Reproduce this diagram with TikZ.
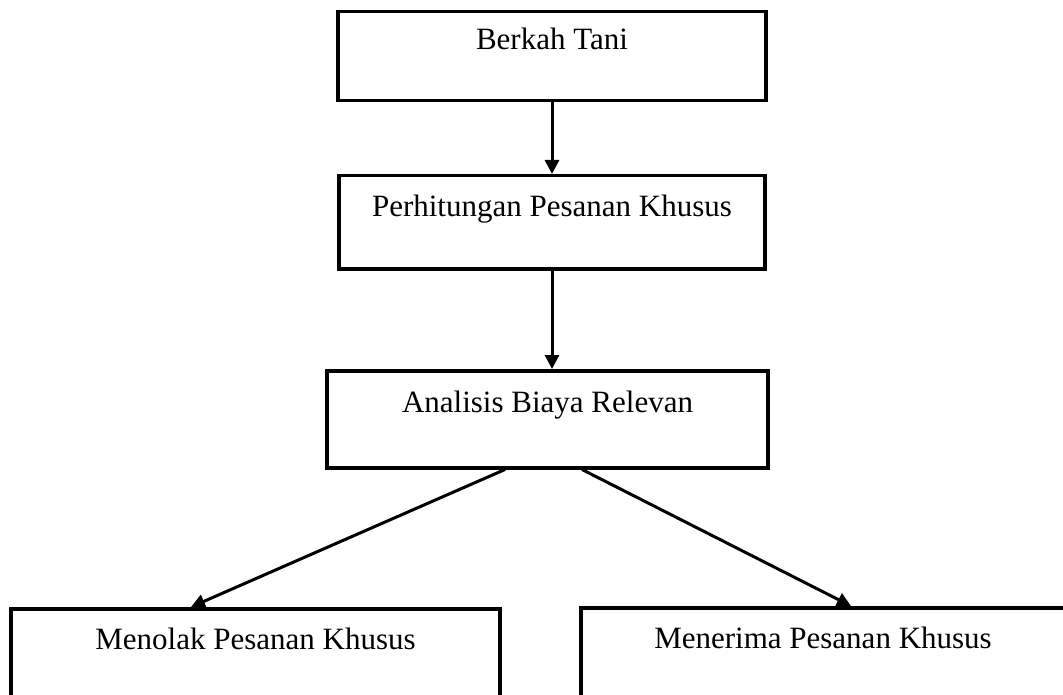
\documentclass[tikz,border=0pt]{standalone}
\usepackage{fontspec}
\setmainfont{Liberation Serif}
\usetikzlibrary{arrows.meta}
\begin{document}
\begin{tikzpicture}[x=1pt,y=1pt,
  box/.style={draw, line width=3.5pt, rectangle, anchor=north, inner xsep=0pt, inner ysep=0pt,
    font=\fontsize{31}{37}\selectfont, align=center},
  conn/.style={line width=3pt, -{Triangle[width=14pt,length=14pt]}}]
\useasboundingbox (0,0) rectangle (1063,-695);
\node[box, minimum width=428pt, text height=38pt, text depth=51pt] (b1) at (552,-10) {Berkah Tani};
\node[box, minimum width=426pt, text height=41pt, text depth=52pt] (b2) at (552,-174) {Perhitungan Pesanan Khusus};
\node[box, minimum width=441pt, text height=42pt, text depth=55pt] (b3) at (547.5,-369) {Analisis Biaya Relevan};
\node[box, minimum width=489pt, text height=41pt, text depth=62pt] (b4) at (255.5,-607) {Menolak Pesanan Khusus};
\node[box, minimum width=484pt, text height=41pt, text depth=62pt] (b5) at (823,-606) {Menerima Pesanan Khusus};
\draw[conn] (b1.south) -- (b1.south |- b2.north);
\draw[conn] (b2.south) -- (b2.south |- b3.north);
\draw[conn] ([xshift=-42.5pt]b3.south) -- ([xshift=-64.5pt]b4.north);
\draw[conn] ([xshift=34.5pt]b3.south) -- ([xshift=28pt]b5.north);
\end{tikzpicture}
\end{document}
